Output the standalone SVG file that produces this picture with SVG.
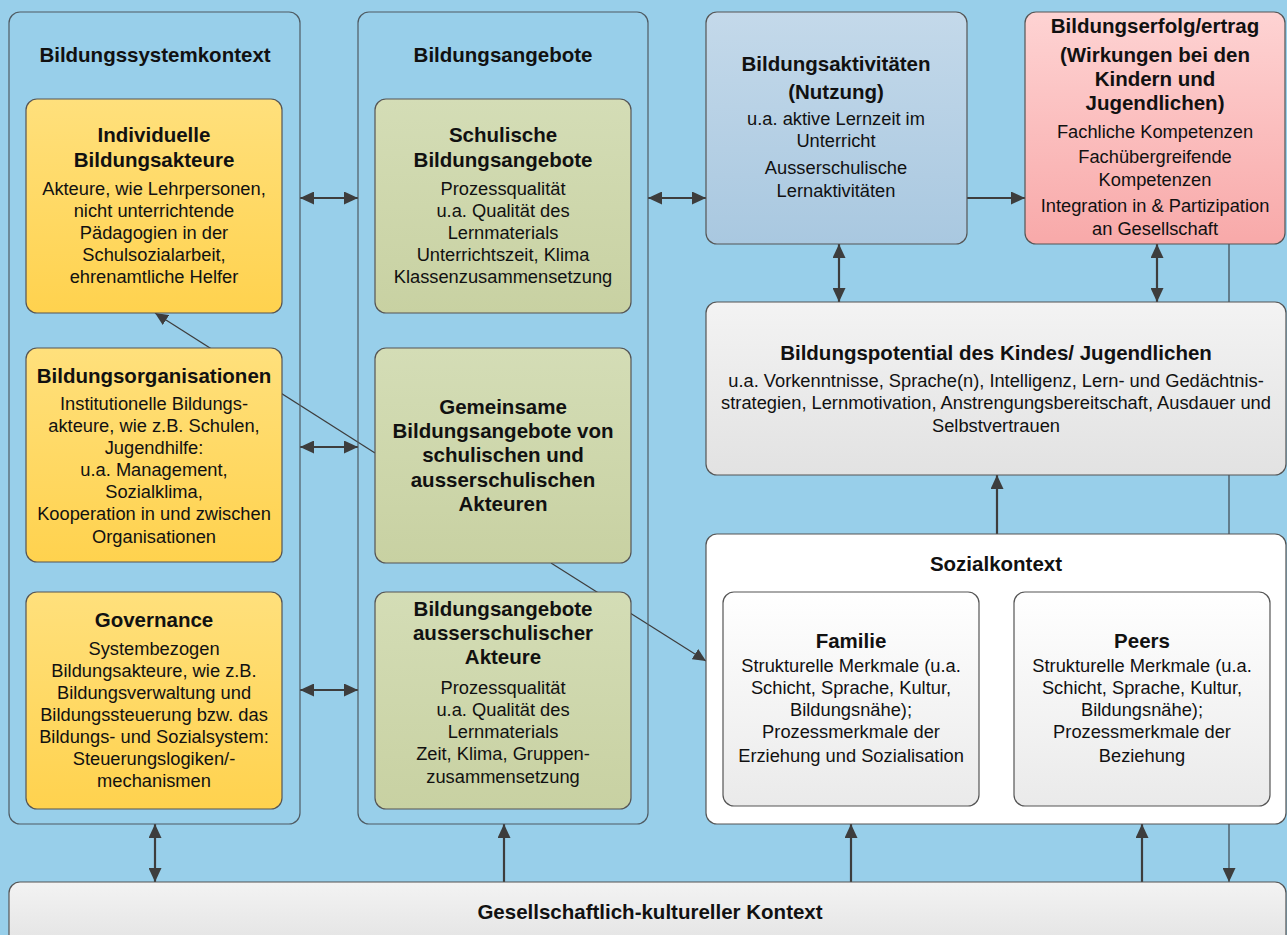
<svg xmlns="http://www.w3.org/2000/svg" width="1287" height="935" viewBox="0 0 1287 935">
<style>
text{font-family:"Liberation Sans",Arial,sans-serif;fill:#111;text-anchor:middle}
.t{font-size:20.5px;font-weight:bold}
.b{font-size:18.3px}
.cont{fill:none;stroke:#4f5b63;stroke-width:1.2}
.box{stroke:#555;stroke-width:1.2}
.ar{stroke:#3d3d3d;stroke-width:2.2;fill:none}
.thin{stroke:#3d3d3d;stroke-width:1.2;fill:none}
.gl{stroke:#627d8c;stroke-width:2;fill:none}
</style>
<defs>
<linearGradient id="gy" x1="0" y1="0" x2="0" y2="1"><stop offset="0" stop-color="#FFE07C"/><stop offset="1" stop-color="#FFD24E"/></linearGradient>
<linearGradient id="gg" x1="0" y1="0" x2="0" y2="1"><stop offset="0" stop-color="#D4DDB6"/><stop offset="1" stop-color="#C8D1A2"/></linearGradient>
<linearGradient id="gb" x1="0" y1="0" x2="0" y2="1"><stop offset="0" stop-color="#C4D9EA"/><stop offset="1" stop-color="#A9C8E0"/></linearGradient>
<linearGradient id="gr" x1="0" y1="0" x2="0" y2="1"><stop offset="0" stop-color="#FED3D3"/><stop offset="1" stop-color="#F8A9A9"/></linearGradient>
<linearGradient id="gw" x1="0" y1="0" x2="0" y2="1"><stop offset="0" stop-color="#F3F3F3"/><stop offset="1" stop-color="#E2E2E2"/></linearGradient>
<linearGradient id="gf" x1="0" y1="0" x2="0" y2="1"><stop offset="0" stop-color="#FFFFFF"/><stop offset="1" stop-color="#EAEAEA"/></linearGradient>
<marker id="ah" markerUnits="userSpaceOnUse" markerWidth="15" markerHeight="13" refX="14" refY="6.5" orient="auto-start-reverse"><path d="M0,0 L14,6.5 L0,13 z" fill="#3d3d3d"/></marker>
<marker id="ahs" markerUnits="userSpaceOnUse" markerWidth="14" markerHeight="12" refX="13" refY="6" orient="auto"><path d="M0,0 L13,6 L0,12 z" fill="#3d3d3d"/></marker>
</defs>
<rect width="1287" height="935" fill="#98CFEA"/>

<g id="connectors">
<line class="gl" x1="1229" y1="244" x2="1229" y2="882" marker-end="url(#ah)"/>
<line class="thin" x1="375" y1="453" x2="155" y2="313" marker-end="url(#ahs)"/>
<line class="thin" x1="551" y1="563" x2="706" y2="661" marker-end="url(#ahs)"/>
<line class="ar" x1="300" y1="198" x2="358" y2="198" marker-start="url(#ah)" marker-end="url(#ah)"/>
<line class="ar" x1="300" y1="447" x2="358" y2="447" marker-start="url(#ah)" marker-end="url(#ah)"/>
<line class="ar" x1="300" y1="690" x2="358" y2="690" marker-start="url(#ah)" marker-end="url(#ah)"/>
<line class="ar" x1="648" y1="198" x2="706" y2="198" marker-start="url(#ah)" marker-end="url(#ah)"/>
<line class="ar" x1="967" y1="198" x2="1025" y2="198" marker-end="url(#ah)"/>
<line class="ar" x1="839" y1="244" x2="839" y2="302" marker-start="url(#ah)" marker-end="url(#ah)"/>
<line class="ar" x1="1157" y1="244" x2="1157" y2="302" marker-start="url(#ah)" marker-end="url(#ah)"/>
<line class="ar" x1="997" y1="534" x2="997" y2="475" marker-end="url(#ah)"/>
<line class="ar" x1="155" y1="824" x2="155" y2="882" marker-start="url(#ah)" marker-end="url(#ah)"/>
<line class="ar" x1="504" y1="882" x2="504" y2="824" marker-end="url(#ah)"/>
<line class="ar" x1="851" y1="882" x2="851" y2="824" marker-end="url(#ah)"/>
<line class="ar" x1="1142" y1="882" x2="1142" y2="824" marker-end="url(#ah)"/>
</g>

<g id="bildungssystemkontext">
<rect class="cont" x="9" y="12" width="291" height="812" rx="11"/>
<text class="t" x="155" y="62">Bildungssystemkontext</text>
</g>
<g id="bildungsangebote">
<rect class="cont" x="358" y="12" width="290" height="812" rx="11"/>
<text class="t" x="503" y="62">Bildungsangebote</text>
</g>

<g id="individuelle">
<rect class="box" x="26" y="99" width="256" height="214" rx="11" fill="url(#gy)"/>
<text class="t" x="154" y="142">Individuelle</text>
<text class="t" x="154" y="167">Bildungsakteure</text>
<text class="b" x="154" y="195">Akteure, wie Lehrpersonen,</text>
<text class="b" x="154" y="217">nicht unterrichtende</text>
<text class="b" x="154" y="239">Pädagogien in der</text>
<text class="b" x="154" y="261">Schulsozialarbeit,</text>
<text class="b" x="154" y="283">ehrenamtliche Helfer</text>
</g>
<g id="organisationen">
<rect class="box" x="26" y="348" width="256" height="214" rx="11" fill="url(#gy)"/>
<text class="t" x="154" y="383">Bildungsorganisationen</text>
<text class="b" x="154" y="410">Institutionelle Bildungs-</text>
<text class="b" x="154" y="432">akteure, wie z.B. Schulen,</text>
<text class="b" x="154" y="454">Jugendhilfe:</text>
<text class="b" x="154" y="476">u.a. Management,</text>
<text class="b" x="154" y="498">Sozialklima,</text>
<text class="b" x="154" y="520">Kooperation in und zwischen</text>
<text class="b" x="154" y="543">Organisationen</text>
</g>
<g id="governance">
<rect class="box" x="26" y="592" width="256" height="217" rx="11" fill="url(#gy)"/>
<text class="t" x="154" y="627">Governance</text>
<text class="b" x="154" y="655">Systembezogen</text>
<text class="b" x="154" y="677">Bildungsakteure, wie z.B.</text>
<text class="b" x="154" y="699">Bildungsverwaltung und</text>
<text class="b" x="154" y="721">Bildungssteuerung bzw. das</text>
<text class="b" x="154" y="743">Bildungs- und Sozialsystem:</text>
<text class="b" x="154" y="765">Steuerungslogiken/-</text>
<text class="b" x="154" y="787">mechanismen</text>
</g>

<g id="schulische">
<rect class="box" x="375" y="99" width="256" height="214" rx="11" fill="url(#gg)"/>
<text class="t" x="503" y="142">Schulische</text>
<text class="t" x="503" y="167">Bildungsangebote</text>
<text class="b" x="503" y="195">Prozessqualität</text>
<text class="b" x="503" y="217">u.a. Qualität des</text>
<text class="b" x="503" y="239">Lernmaterials</text>
<text class="b" x="503" y="261">Unterrichtszeit, Klima</text>
<text class="b" x="503" y="283">Klassenzusammensetzung</text>
</g>
<g id="gemeinsame">
<rect class="box" x="375" y="348" width="256" height="215" rx="11" fill="url(#gg)"/>
<text class="t" x="503" y="414">Gemeinsame</text>
<text class="t" x="503" y="438">Bildungsangebote von</text>
<text class="t" x="503" y="462">schulischen und</text>
<text class="t" x="503" y="487">ausserschulischen</text>
<text class="t" x="503" y="511">Akteuren</text>
</g>
<g id="ausserschulisch">
<rect class="box" x="375" y="592" width="256" height="217" rx="11" fill="url(#gg)"/>
<text class="t" x="503" y="616">Bildungsangebote</text>
<text class="t" x="503" y="640">ausserschulischer</text>
<text class="t" x="503" y="664">Akteure</text>
<text class="b" x="503" y="694">Prozessqualität</text>
<text class="b" x="503" y="716">u.a. Qualität des</text>
<text class="b" x="503" y="738">Lernmaterials</text>
<text class="b" x="503" y="760">Zeit, Klima, Gruppen-</text>
<text class="b" x="503" y="783">zusammensetzung</text>
</g>

<g id="aktivitaeten">
<rect class="box" x="706" y="12" width="261" height="232" rx="11" fill="url(#gb)"/>
<text class="t" x="836" y="71">Bildungsaktivitäten</text>
<text class="t" x="836" y="99">(Nutzung)</text>
<text class="b" x="836" y="125">u.a. aktive Lernzeit im</text>
<text class="b" x="836" y="147">Unterricht</text>
<text class="b" x="836" y="174">Ausserschulische</text>
<text class="b" x="836" y="197">Lernaktivitäten</text>
</g>
<g id="erfolg">
<rect class="box" x="1025" y="12" width="260" height="232" rx="11" fill="url(#gr)"/>
<text class="t" x="1155" y="33">Bildungserfolg/ertrag</text>
<text class="t" x="1155" y="62">(Wirkungen bei den</text>
<text class="t" x="1155" y="86">Kindern und</text>
<text class="t" x="1155" y="110">Jugendlichen)</text>
<text class="b" x="1155" y="138">Fachliche Kompetenzen</text>
<text class="b" x="1155" y="163">Fachübergreifende</text>
<text class="b" x="1155" y="186">Kompetenzen</text>
<text class="b" x="1155" y="212">Integration in &amp; Partizipation</text>
<text class="b" x="1155" y="235">an Gesellschaft</text>
</g>

<g id="potential">
<rect class="box" x="706" y="302" width="580" height="173" rx="11" fill="url(#gw)"/>
<text class="t" x="996" y="360">Bildungspotential des Kindes/ Jugendlichen</text>
<text class="b" x="996" y="387">u.a. Vorkenntnisse, Sprache(n), Intelligenz, Lern- und Gedächtnis-</text>
<text class="b" x="996" y="409">strategien, Lernmotivation, Anstrengungsbereitschaft, Ausdauer und</text>
<text class="b" x="996" y="432">Selbstvertrauen</text>
</g>

<g id="sozialkontext">
<rect class="box" x="706" y="534" width="580" height="290" rx="11" fill="#FFFFFF"/>
<text class="t" x="996" y="571">Sozialkontext</text>
</g>
<g id="familie">
<rect class="box" x="723" y="592" width="256" height="214" rx="11" fill="url(#gf)"/>
<text class="t" x="851" y="648">Familie</text>
<text class="b" x="851" y="672">Strukturelle Merkmale (u.a.</text>
<text class="b" x="851" y="694">Schicht, Sprache, Kultur,</text>
<text class="b" x="851" y="716">Bildungsnähe);</text>
<text class="b" x="851" y="738">Prozessmerkmale der</text>
<text class="b" x="851" y="762">Erziehung und Sozialisation</text>
</g>
<g id="peers">
<rect class="box" x="1014" y="592" width="256" height="214" rx="11" fill="url(#gf)"/>
<text class="t" x="1142" y="648">Peers</text>
<text class="b" x="1142" y="672">Strukturelle Merkmale (u.a.</text>
<text class="b" x="1142" y="694">Schicht, Sprache, Kultur,</text>
<text class="b" x="1142" y="716">Bildungsnähe);</text>
<text class="b" x="1142" y="738">Prozessmerkmale der</text>
<text class="b" x="1142" y="762">Beziehung</text>
</g>

<g id="gesellschaft">
<rect class="box" x="9" y="882" width="1277" height="70" rx="11" fill="url(#gw)"/>
<text class="t" x="650" y="919">Gesellschaftlich-kultureller Kontext</text>
</g>
</svg>
